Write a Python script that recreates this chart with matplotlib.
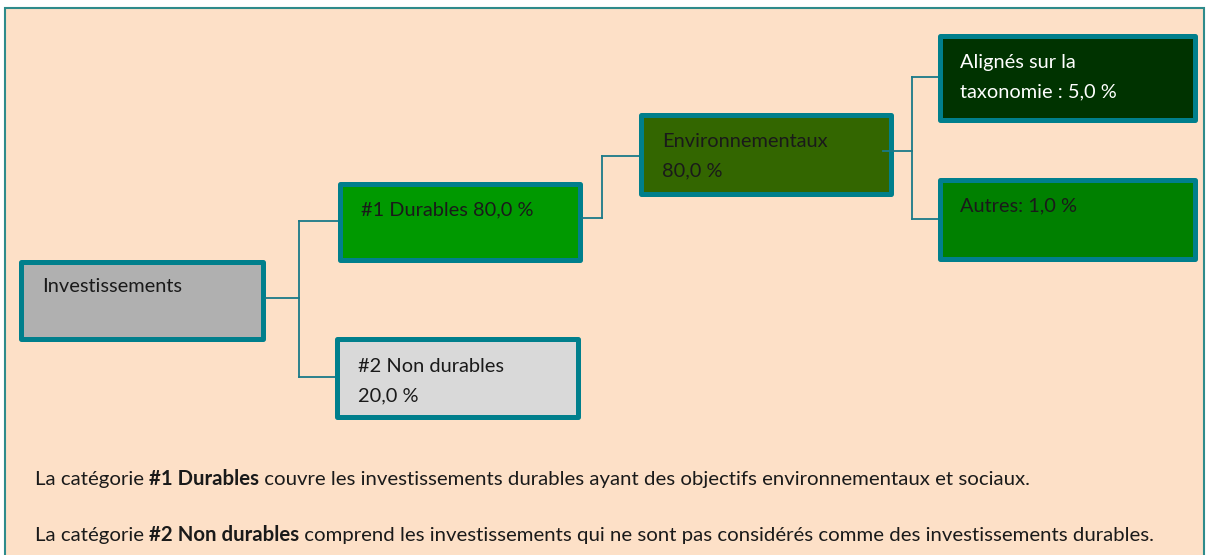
import matplotlib
matplotlib.use('Agg')
import matplotlib.pyplot as plt
from matplotlib.patches import Rectangle

# data
categories = ['Investissements', '#1 Durables', '#2 Non durables', 'Environnementaux',
              'Alignés sur la taxonomie', 'Autres']
shares = [None, 80.0, 20.0, 80.0, 5.0, 1.0]
parents = [None, 0, 0, 1, 3, 3]
footnote_1 = [('La catégorie ', 'normal'), ('#1 Durables', 'bold'),
              (' couvre les investissements durables ayant des objectifs environnementaux et sociaux.', 'normal')]
footnote_2 = [('La catégorie ', 'normal'), ('#2 Non durables', 'bold'),
              (' comprend les investissements qui ne sont pas considérés comme des investissements durables.', 'normal')]


def pct(v):
    return ('%.1f' % v).replace('.', ',') + ' %'


labels = [
    categories[0],
    '%s %s' % (categories[1], pct(shares[1])),
    '%s\n%s' % (categories[2], pct(shares[2])),
    '%s\n%s' % (categories[3], pct(shares[3])),
    'Alignés sur la\ntaxonomie : %s' % pct(shares[4]),
    '%s: %s' % (categories[5], pct(shares[5])),
]

# layout (pixel space, outer edges of boxes)
boxes = [(18, 259, 265, 341), (337, 181, 582, 262), (334, 336, 580, 419),
         (638, 112, 893, 196), (937, 33, 1197, 122), (937, 177, 1197, 261)]
fills = ['#B0B0B0', '#009900', '#D9D9D9', '#336600', '#003300', '#008000']
text_col = ['#1a1a1a', '#1a1a1a', '#1a1a1a', '#1a1a1a', 'white', '#1a1a1a']
# left x and first baseline
text_pos = [(42, 292), (361, 215), (358, 372), (662, 147), (960, 68), (960, 211)]
line_step = 29.5
bus_x = {0: 299, 1: 602, 3: 912}
edge_y = {0: 298, 1: 218, 3: 151}
edge_start = {0: 0, 1: 0, 3: 10}   # how far the outgoing line reaches into the box
child_y = {1: 221, 2: 377, 3: 156, 4: 77, 5: 219}

bg = '#FDE0C7'
teal = '#007F8C'
line_col = '#1A7A88'
font = 'Lato'
fs_box = 14.4
fs_note = 15.6

fig = plt.figure(figsize=(12.11, 5.55), dpi=100)
fig.patch.set_facecolor('white')
ax = fig.add_axes([0, 0, 1, 1])
ax.set_xlim(0, 1211)
ax.set_ylim(555, 0)
ax.axis('off')

# outer frame
ax.add_patch(Rectangle((5, 8), 1199, 560, facecolor=bg, edgecolor='#2E8B8B', lw=1.5, zorder=0))

# connectors
for p in sorted(set(x for x in parents if x is not None)):
    kids = [i for i, q in enumerate(parents) if q == p]
    bx = bus_x[p]
    ys = [edge_y[p]] + [child_y[k] for k in kids]
    ax.plot([boxes[p][2] - edge_start[p], bx], [edge_y[p], edge_y[p]], color=line_col, lw=1.3, zorder=3)
    ax.plot([bx, bx], [min(ys), max(ys)], color=line_col, lw=1.3, zorder=1)
    for k in kids:
        ax.plot([bx, boxes[k][0] + 2], [child_y[k], child_y[k]], color=line_col, lw=1.3, zorder=1)

# boxes
bw = 5
for i, (x0, y0, x1, y1) in enumerate(boxes):
    ax.add_patch(Rectangle((x0 + bw / 2, y0 + bw / 2), x1 - x0 - bw, y1 - y0 - bw,
                           facecolor=fills[i], edgecolor=teal, lw=bw * 72 / 100,
                           joinstyle='round', zorder=2))
    tx, ty = text_pos[i]
    for j, s in enumerate(labels[i].split('\n')):
        ax.text(tx, ty + j * line_step, s, fontsize=fs_box, family=font, color=text_col[i],
                va='baseline', ha='left', zorder=4)

# footnotes with bold runs, one size so that both fit where they end in the reference
renderer = fig.canvas.get_renderer()


def draw_runs(parts, y, fs):
    x = 35
    arts = []
    for s, w in parts:
        t = ax.text(x, y, s, fontsize=fs, family=font, fontweight=w, color='#1a1a1a',
                    va='baseline', ha='left', zorder=4)
        x += t.get_window_extent(renderer=renderer).width
        arts.append(t)
    return arts, x


notes = [(footnote_1, 485, 1093), (footnote_2, 541, 1150)]
sizes = []
for parts, y, x_end in notes:
    arts, x = draw_runs(parts, y, fs_note)
    sizes.append(fs_note * (x_end - 35) / (x - 35))
    for a in arts:
        a.remove()
fs = min(sizes)
for parts, y, x_end in notes:
    draw_runs(parts, y, fs)

fig.savefig('out.png', dpi=100, facecolor='white')
